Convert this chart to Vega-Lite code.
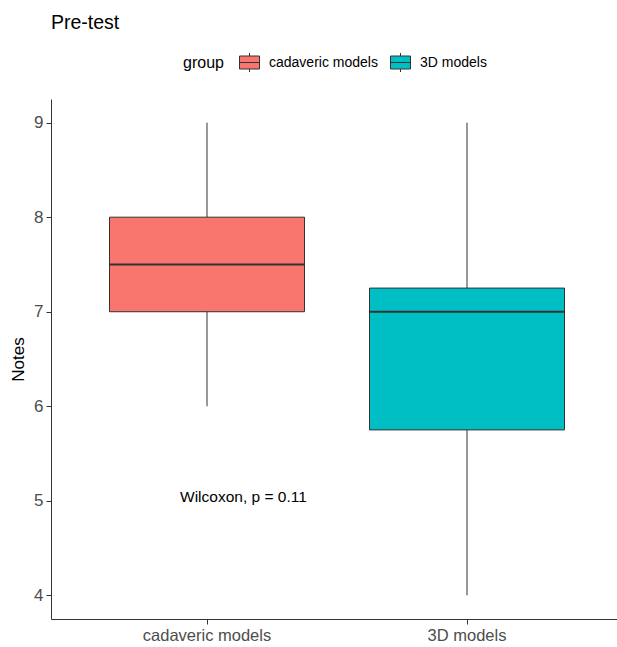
{
  "$schema": "https://vega.github.io/schema/vega-lite/v6.json",
  "width": 566,
  "height": 520,
  "autosize": "none",
  "padding": {"left": 51, "top": 99, "right": 0, "bottom": 28},
  "title": {"text": "Pre-test", "anchor": "start", "frame": "group", "fontSize": 19.5, "fontWeight": "normal", "color": "black", "font": "Liberation Sans", "offset": 19},
  "config": {"view": {"stroke": null}, "font": "Liberation Sans"},
  "data": {"values": [
    {"group": "cadaveric models", "min": 6, "q1": 7, "median": 7.5, "q3": 8, "max": 9},
    {"group": "3D models", "min": 4, "q1": 5.75, "median": 7, "q3": 7.25, "max": 9}
  ]},
  "encoding": {
    "x": {"field": "group", "type": "nominal", "sort": ["cadaveric models", "3D models"],
      "scale": {"paddingInner": 0, "paddingOuter": 0.1, "range": [0, 572]},
      "axis": {"title": null, "labelAngle": 0, "labelFontSize": 16.5, "labelColor": "#4d4d4d", "domainColor": "#333333", "tickColor": "#333333", "tickSize": 5, "labelPadding": 3, "grid": false}}
  },
  "layer": [
    {"mark": {"type": "rule", "color": "#333333", "strokeWidth": 1},
     "encoding": {
       "y": {"field": "min", "type": "quantitative", "scale": {"domain": [3.75, 9.25], "nice": false, "zero": false},
         "axis": {"title": "Notes", "values": [4, 5, 6, 7, 8, 9], "format": "d", "grid": false, "labelFontSize": 17, "labelColor": "#4d4d4d", "titleFontSize": 17, "titleFontWeight": "normal", "titleColor": "black", "domainColor": "#333333", "tickColor": "#333333", "tickSize": 5, "labelPadding": 3, "titlePadding": 6}},
       "y2": {"field": "max"}
     }},
    {"mark": {"type": "bar", "width": {"band": 0.75}, "stroke": "#333333", "strokeWidth": 1},
     "encoding": {
       "y": {"field": "q1", "type": "quantitative"},
       "y2": {"field": "q3"},
       "fill": {"field": "group", "type": "nominal",
         "scale": {"domain": ["cadaveric models", "3D models"], "range": ["#F8766D", "#00BFC4"]},
         "legend": {"orient": "none", "legendX": 132, "legendY": -47, "direction": "horizontal", "titleOrient": "left", "title": "group", "titleFontSize": 16, "titleFontWeight": "normal", "titleColor": "black", "labelFontSize": 14, "labelColor": "black", "symbolType": "M-1,-0.65H1V0.65H-1Z M-1,0H1 M0,-0.65V-0.95 M0,0.65V0.95", "symbolSize": 400, "symbolStrokeColor": "#333333", "symbolStrokeWidth": 1, "symbolOpacity": 1, "labelOffset": 9, "columnPadding": 10, "titlePadding": 15}}
     }},
    {"mark": {"type": "tick", "color": "#333333", "thickness": 2, "size": 195, "opacity": 1},
     "encoding": {"y": {"field": "median", "type": "quantitative"}}},
    {"data": {"values": [{"group": "cadaveric models", "y": 5.04, "label": "Wilcoxon, p = 0.11"}]},
     "mark": {"type": "text", "align": "left", "baseline": "middle", "dx": -27, "fontSize": 15.5, "color": "black"},
     "encoding": {"y": {"field": "y", "type": "quantitative"}, "text": {"field": "label"}}}
  ]
}
